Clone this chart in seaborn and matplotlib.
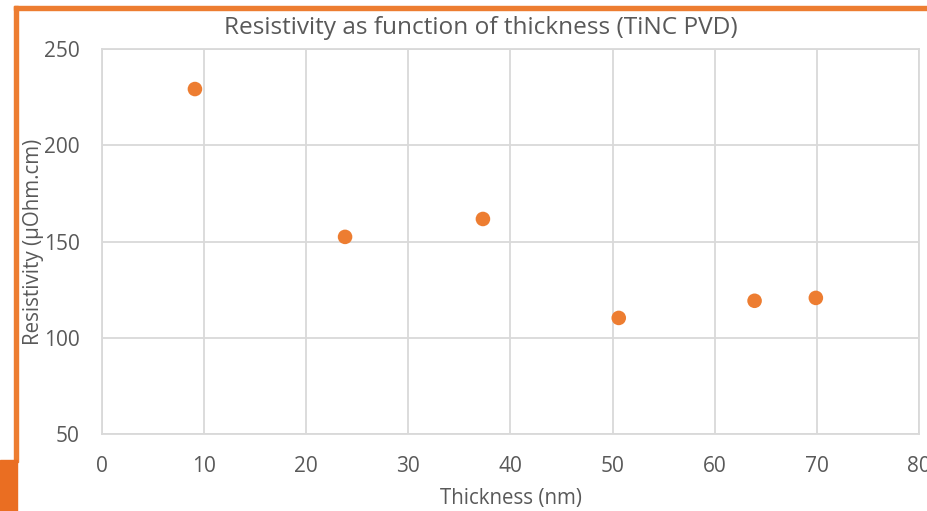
import matplotlib
matplotlib.use("Agg")
import matplotlib.pyplot as plt
import seaborn as sns
import pandas as pd
from matplotlib.patches import Rectangle

thickness = [9.1, 23.8, 37.3, 50.6, 63.9, 69.9]
resistivity = [229.2, 152.4, 161.7, 110.3, 119.2, 120.7]
x_ticks = [0, 10, 20, 30, 40, 50, 60, 70, 80]
y_ticks = [50, 100, 150, 200, 250]

df = pd.DataFrame({"Thickness": thickness, "Resistivity": resistivity})

sns.set_theme(style="white")
plt.rcParams['font.family'] = ['Open Sans', 'DejaVu Sans']

W, H = 928, 511
fig = plt.figure(figsize=(W / 100, H / 100), dpi=100)
ax = fig.add_axes([102 / W, 1 - 434 / H, (919 - 102) / W, (434 - 49) / H])

sns.scatterplot(data=df, x="Thickness", y="Resistivity", ax=ax, s=110,
                color="#ED7D31", edgecolor="none", zorder=3, clip_on=False)

grid_c = "#D9D9D9"
ax.set_xlim(0, 80)
ax.set_ylim(50, 250)
ax.set_xticks(x_ticks)
ax.set_yticks(y_ticks)
ax.grid(True, color=grid_c, linewidth=1.3)
for s in ax.spines.values():
    s.set_color(grid_c)
    s.set_linewidth(1.3)
ax.tick_params(axis="both", length=0, colors="#595959", labelsize=15)
ax.tick_params(axis="y", pad=16)
ax.tick_params(axis="x", pad=16)
ax.set_xlabel("Thickness (nm)", color="#595959", fontsize=14.8)
ax.xaxis.set_label_coords(0.5, -(488 - 434) / (434 - 49))
ax.set_ylabel("Resistivity (µOhm.cm)", color="#595959", fontsize=14.8)
ax.yaxis.set_label_coords((44 - 102) / (919 - 102), 0.5)

fig.text(481 / W, 1 - 28 / H, "Resistivity as function of thickness (TiNC PVD)",
         ha="center", va="center", color="#595959", fontsize=17.6)

# orange frame pieces
orange = "#ED7D31"
fig.patches.append(Rectangle((14 / W, 1 - 10 / H), (W - 14) / W, 4 / H,
                             transform=fig.transFigure, color=orange, zorder=0))
fig.patches.append(Rectangle((14 / W, 1 - 462 / H), 4 / W, (462 - 6) / H,
                             transform=fig.transFigure, color=orange, zorder=0))
fig.patches.append(Rectangle((0, 0), 17 / W, (H - 460) / H,
                             transform=fig.transFigure, color="#EA6E22", zorder=0))

fig.savefig("out.png", dpi=100)
